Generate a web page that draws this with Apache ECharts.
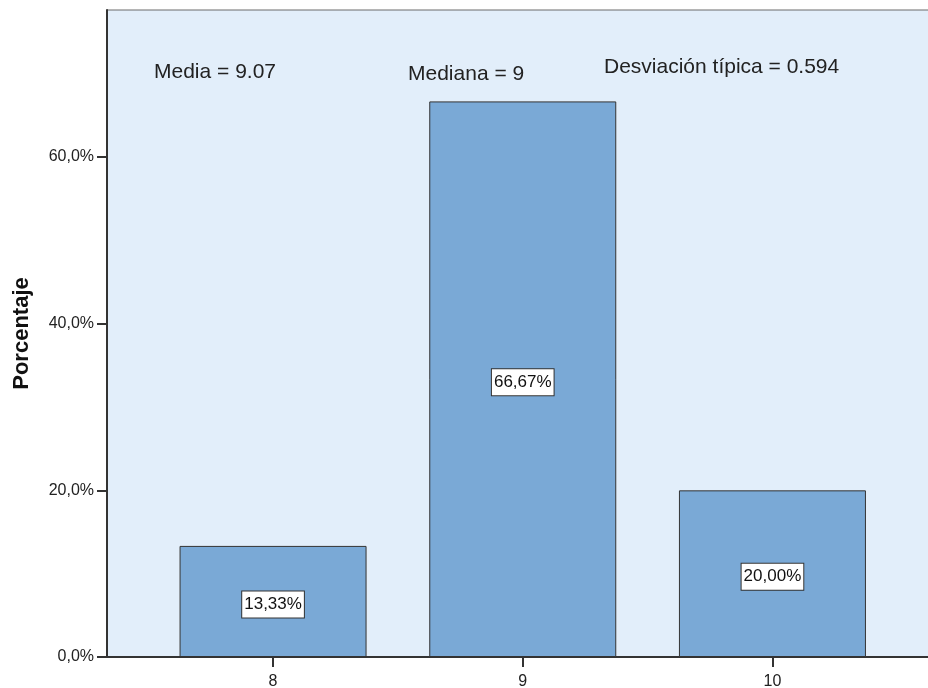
<!DOCTYPE html>
<html>
<head>
<meta charset="utf-8">
<script src="https://cdn.jsdelivr.net/npm/echarts@6/dist/echarts.min.js"></script>
<style>
  html, body { margin: 0; padding: 0; background: #fff; }
  #chart { width: 928px; height: 688px; }
</style>
</head>
<body>
<div id="chart"></div>
<script>
// values
const categories = [8, 9, 10]
const percentages = [13.33, 66.67, 20.0]
const yTicks = [0, 20, 40, 60]
const stats = ['Media = 9.07', 'Mediana = 9', 'Desviación típica = 0.594']

const fontFamily = '"Liberation Sans", Arial, sans-serif'
const fmtComma = (v, d) => v.toFixed(d).replace('.', ',')

const chart = echarts.init(document.getElementById('chart'), null, { renderer: 'canvas' })

chart.setOption({
  animation: false,
  textStyle: { fontFamily },
  grid: {
    left: 107, right: -12, top: 10, bottom: 31,
    outerBoundsMode: 'none',
    show: true,
    backgroundColor: '#E2EEFA',
    borderColor: '#6b6b6b',
    borderWidth: 1,
  },
  xAxis: {
    type: 'value',
    min: 7.335,
    max: 10.671,
    axisLine: { show: true, onZero: false, lineStyle: { color: '#333', width: 2 } },
    axisTick: { show: true, length: 10, lineStyle: { color: '#333', width: 2 }, customValues: categories },
    axisLabel: {
      color: '#222', fontSize: 16, margin: 17,
      customValues: categories,
      formatter: v => String(v),
    },
    splitLine: { show: false },
  },
  yAxis: {
    type: 'value',
    min: 0,
    max: 77.64,
    name: 'Porcentaje',
    nameLocation: 'middle',
    nameRotate: 90,
    nameGap: 74,
    nameTextStyle: { fontSize: 22, fontWeight: 'bold', color: '#111' },
    axisLine: { show: true, lineStyle: { color: '#333', width: 2 } },
    axisTick: { show: true, length: 10, lineStyle: { color: '#333', width: 2 }, customValues: yTicks },
    axisLabel: {
      color: '#222', fontSize: 16, margin: 13,
      customValues: yTicks,
      formatter: v => fmtComma(v, 1) + '%',
    },
    splitLine: { show: false },
  },
  graphic: [
    { type: 'text', left: 154, top: 62, style: { text: stats[0], fontSize: 21, fontFamily, fill: '#222' } },
    { type: 'text', left: 408, top: 64, style: { text: stats[1], fontSize: 21, fontFamily, fill: '#222' } },
    { type: 'text', left: 604, top: 57, style: { text: stats[2], fontSize: 21, fontFamily, fill: '#222' } },
  ],
  series: [{
    type: 'bar',
    barWidth: 187,
    data: categories.map((c, i) => [c, percentages[i]]),
    itemStyle: { color: '#7AA9D6', borderColor: '#333', borderWidth: 1 },
    label: {
      show: true,
      position: 'inside',
      offset: [0, 3],
      formatter: p => fmtComma(p.value[1], 2) + '%',
      color: '#111',
      fontSize: 17,
      backgroundColor: '#fff',
      borderColor: '#333',
      borderWidth: 1,
      padding: [3, 2, 2, 2],
      lineHeight: 21,
    },
  }],
})
</script>
</body>
</html>
